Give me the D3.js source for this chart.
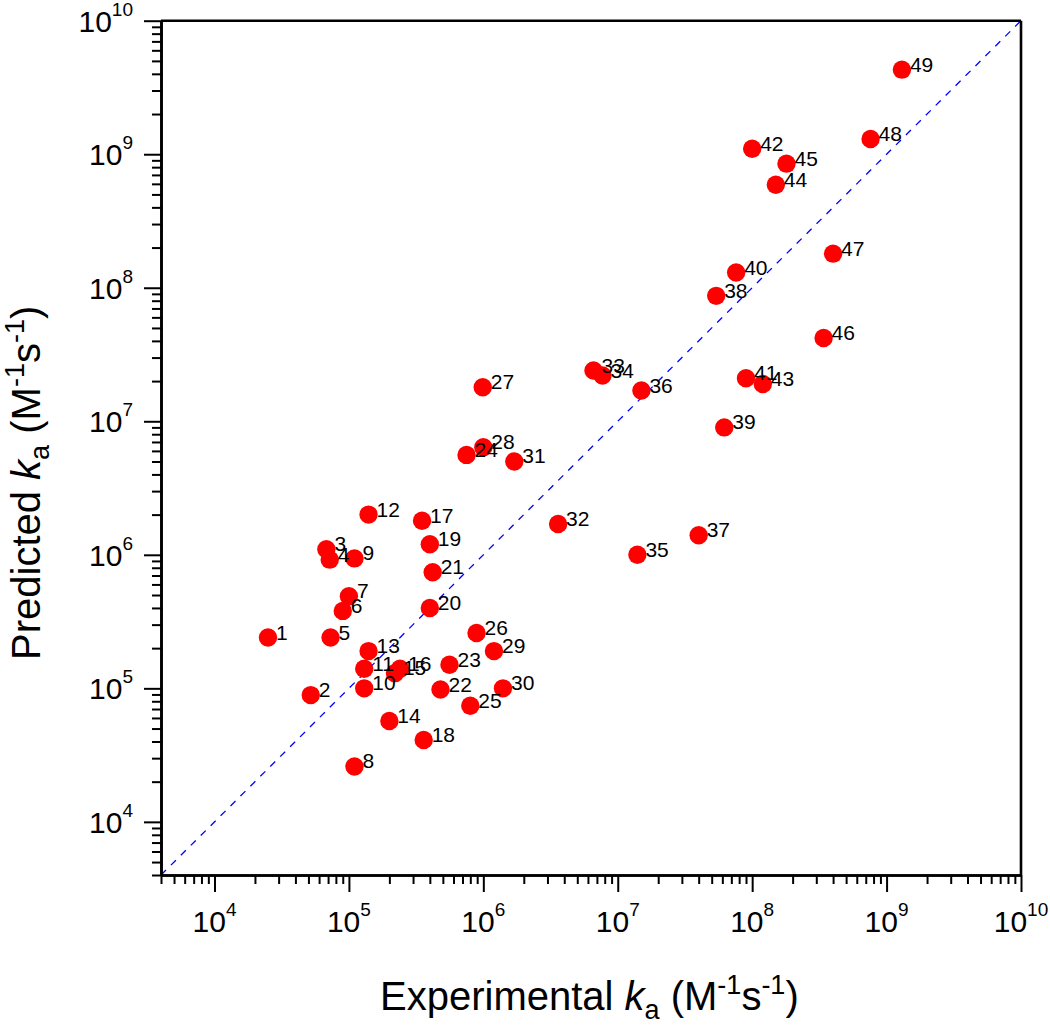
<!DOCTYPE html>
<html><head><meta charset="utf-8">
<script src="https://cdn.jsdelivr.net/npm/d3@7"></script>
<style>
body{margin:0;background:#fff}
text{font-family:Arial,"Liberation Sans",sans-serif;fill:#000}
</style>
</head><body>
<svg id="chart" width="1050" height="1025"></svg>
<script>
// ---- data ----
const pointIds = d3.range(1, 50);
const experimentalKa = [2.5e4, 5.2e4, 6.8e4, 7.2e4, 7.3e4, 9.0e4, 1.0e5, 1.1e5, 1.1e5, 1.3e5,
  1.3e5, 1.4e5, 1.4e5, 2.0e5, 2.2e5, 2.4e5, 3.5e5, 3.6e5, 4.0e5, 4.0e5,
  4.2e5, 4.8e5, 5.6e5, 7.5e5, 8.0e5, 8.9e5, 9.9e5, 1.0e6, 1.2e6, 1.4e6,
  1.7e6, 3.6e6, 6.6e6, 7.7e6, 1.4e7, 1.5e7, 4.0e7, 5.4e7, 6.2e7, 7.6e7,
  9.0e7, 1.0e8, 1.2e8, 1.5e8, 1.8e8, 3.4e8, 4.0e8, 7.6e8, 1.3e9];
const predictedKa = [2.4e5, 8.9e4, 1.1e6, 9.2e5, 2.4e5, 3.8e5, 4.9e5, 2.6e4, 9.4e5, 1.0e5,
  1.4e5, 2.0e6, 1.9e5, 5.7e4, 1.3e5, 1.4e5, 1.8e6, 4.1e4, 1.2e6, 4.0e5,
  7.4e5, 9.8e4, 1.5e5, 5.6e6, 7.4e4, 2.6e5, 1.8e7, 6.4e6, 1.9e5, 1.0e5,
  5.0e6, 1.7e6, 2.4e7, 2.2e7, 1.0e6, 1.7e7, 1.4e6, 8.7e7, 9.0e6, 1.3e8,
  2.1e7, 1.1e9, 1.9e7, 5.9e8, 8.5e8, 4.2e7, 1.8e8, 1.3e9, 4.3e9];
const axisDomain = [4e3, 1e10];
const majorTicks = [1e4, 1e5, 1e6, 1e7, 1e8, 1e9, 1e10];
const tickExponents = ["4", "5", "6", "7", "8", "9", "10"];
const identityLine = [4e3, 1e10];

// ---- layout ----
const L = 161, R = 1021, T = 20.7, B = 875;
const svg = d3.select("#chart");

const x = d3.scaleLog().domain(axisDomain).range([L, R]);
const y = d3.scaleLog().domain(axisDomain).range([B, T]);

const minorTicks = [];
for (let e = 3; e <= 9; e++) for (let m = 2; m <= 9; m++) {
  const v = m * Math.pow(10, e);
  if (v >= axisDomain[0] && v <= axisDomain[1]) minorTicks.push(v);
}

// identity dashed line
svg.append("line")
  .attr("x1", x(identityLine[0])).attr("y1", y(identityLine[0]))
  .attr("x2", x(identityLine[1])).attr("y2", y(identityLine[1]))
  .attr("stroke", "#0000ff").attr("stroke-width", 1.3)
  .attr("stroke-dasharray", "7,7");

// frame top/right
svg.append("line").attr("x1", L).attr("x2", R).attr("y1", T).attr("y2", T)
  .attr("stroke", "#000").attr("stroke-width", 2.6);
svg.append("line").attr("x1", R).attr("x2", R).attr("y1", T).attr("y2", B)
  .attr("stroke", "#000").attr("stroke-width", 2.6);

// x axis
const gx = svg.append("g").attr("transform", `translate(0,${B})`);
gx.append("g").call(d3.axisBottom(x).tickValues(minorTicks).tickSize(9).tickSizeOuter(0).tickFormat(() => ""));
gx.append("g").call(d3.axisBottom(x).tickValues(majorTicks).tickSize(17).tickSizeOuter(0).tickFormat(() => ""));
gx.selectAll(".domain").attr("stroke-width", 2.6);
gx.selectAll(".tick line").attr("stroke-width", 2);
gx.selectAll(".tick text").remove();
majorTicks.forEach((v, i) => {
  const t = gx.append("text").attr("x", x(v)).attr("y", 57).attr("text-anchor", "middle").attr("font-size", 30);
  t.append("tspan").text("10");
  t.append("tspan").attr("dy", -16).attr("font-size", 19).text(tickExponents[i]);
});

// y axis
const gy = svg.append("g").attr("transform", `translate(${L},0)`);
gy.append("g").call(d3.axisLeft(y).tickValues(minorTicks).tickSize(9).tickSizeOuter(0).tickFormat(() => ""));
gy.append("g").call(d3.axisLeft(y).tickValues(majorTicks).tickSize(17).tickSizeOuter(0).tickFormat(() => ""));
gy.selectAll(".domain").attr("stroke-width", 2.6);
gy.selectAll(".tick line").attr("stroke-width", 2);
gy.selectAll(".tick text").remove();
majorTicks.forEach((v, i) => {
  const t = gy.append("text").attr("x", -28).attr("y", y(v) + 11).attr("text-anchor", "end").attr("font-size", 30);
  t.append("tspan").text("10");
  t.append("tspan").attr("dy", -16).attr("font-size", 19).text(tickExponents[i]);
});

// points
const pts = pointIds.map((id, i) => ({id, ex: experimentalKa[i], pr: predictedKa[i]}));
svg.append("g").selectAll("circle").data(pts).join("circle")
  .attr("cx", d => x(d.ex)).attr("cy", d => y(d.pr)).attr("r", 9.2)
  .attr("fill", "#ff0000");
svg.append("g").selectAll("text").data(pts).join("text")
  .attr("x", d => x(d.ex) + 8).attr("y", d => y(d.pr) + 2)
  .attr("font-size", 21).text(d => d.id);

// axis titles
function title(sel, label) {
  sel.append("tspan").text(label + " ");
  sel.append("tspan").attr("font-style", "italic").text("k");
  sel.append("tspan").attr("dy", 9).attr("font-size", 27).text("a");
  sel.append("tspan").attr("dy", -9).text(" (M");
  sel.append("tspan").attr("dy", -16).attr("font-size", 27).text("-1");
  sel.append("tspan").attr("dy", 16).text("s");
  sel.append("tspan").attr("dy", -16).attr("font-size", 27).text("-1");
  sel.append("tspan").attr("dy", 16).text(")");
}
const xt = svg.append("text").attr("x", 380).attr("y", 1010).attr("font-size", 40);
title(xt, "Experimental");
const yt = svg.append("text").attr("transform", "rotate(-90)").attr("x", -660).attr("y", 40).attr("font-size", 40);
title(yt, "Predicted");
</script>
</body></html>
